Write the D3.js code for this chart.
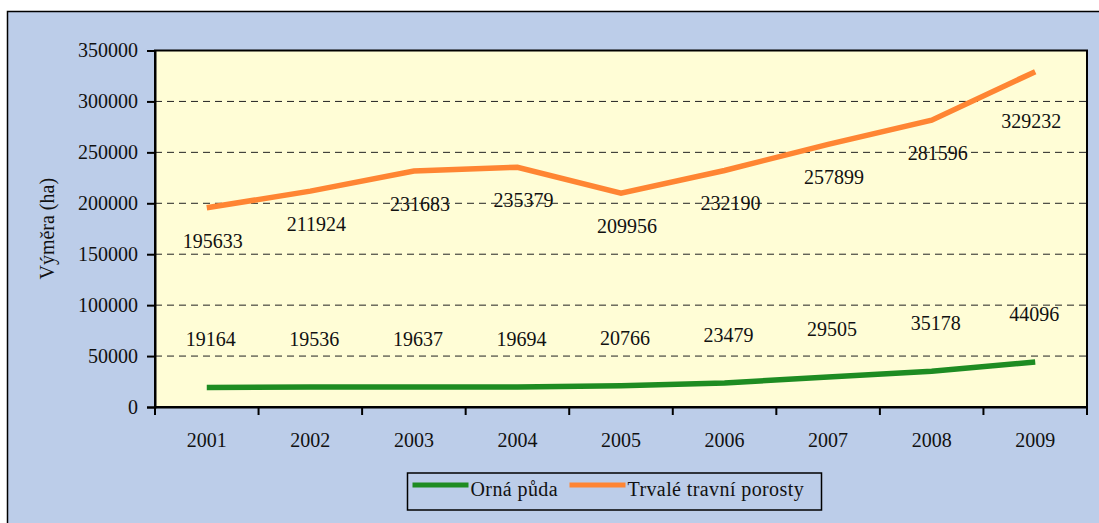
<!DOCTYPE html>
<html>
<head>
<meta charset="utf-8">
<script src="https://cdn.jsdelivr.net/npm/d3@7"></script>
<style>
  body { margin: 0; background: #fff; }
</style>
</head>
<body>
<div id="chart"></div>
<script>
// data
const years = ['2001', '2002', '2003', '2004', '2005', '2006', '2007', '2008', '2009'];
const ornaPuda = [19164, 19536, 19637, 19694, 20766, 23479, 29505, 35178, 44096];
const travniPorosty = [195633, 211924, 231683, 235379, 209956, 232190, 257899, 281596, 329232];
const yTicks = [0, 50000, 100000, 150000, 200000, 250000, 300000, 350000];
const seriesNames = ['Orná půda', 'Trvalé travní porosty'];

const W = 1099, H = 523;
const margin = { top: 50.5, right: 12, bottom: 116, left: 155 };
const green = '#1e8c22', orange = '#ff8533';
const FONT = '"Liberation Serif", "Times New Roman", Times, serif';

let svg = d3.select('#chart').append('svg')
  .attr('width', W)
  .attr('height', H);

/* pozadí + rámeček */
svg.append('rect')
  .attr('x', 7.5).attr('y', 11.5)
  .attr('width', W).attr('height', H)
  .attr('fill', '#bccde9')
  .attr('stroke', '#000')
  .attr('stroke-width', 1.5);

let x = d3.scaleBand().domain(years).range([margin.left, W - margin.right]);
let y = d3.scaleLinear().domain([0, 350000]).range([H - margin.bottom, margin.top]);

let plotW = W - margin.right - margin.left;
let plotH = H - margin.bottom - margin.top;

svg.append('rect')
  .attr('x', margin.left).attr('y', margin.top)
  .attr('width', plotW).attr('height', plotH)
  .attr('fill', '#fffdd6')
  .attr('stroke', '#000')
  .attr('stroke-width', 2);

/* vodorovné mřížky */
svg.append('g')
  .selectAll('line')
  .data(yTicks.filter(d => d > 0 && d < 350000))
  .join('line')
  .attr('x1', margin.left).attr('x2', W - margin.right)
  .attr('y1', d => y(d)).attr('y2', d => y(d))
  .attr('stroke', '#222')
  .attr('stroke-width', 1)
  .attr('stroke-dasharray', '7,5');

/* osa y */
let yAxis = d3.axisLeft(y).tickValues(yTicks).tickSize(8).tickPadding(9).tickFormat(d3.format('d'));
let gy = svg.append('g')
  .attr('transform', 'translate(' + margin.left + ',0)')
  .call(yAxis);
gy.select('.domain').attr('stroke-width', 2);
gy.selectAll('.tick line').attr('stroke-width', 2);

/* osa x - tick marks at band edges */
let gx = svg.append('g')
  .attr('transform', 'translate(0,' + (H - margin.bottom) + ')')
  .call(d3.axisBottom(x).tickSize(0).tickPadding(26));
gx.select('.domain').attr('stroke-width', 2);

let edges = years.map(d => x(d)).concat([x(years[years.length - 1]) + x.bandwidth()]);
svg.append('g')
  .selectAll('line')
  .data(edges)
  .join('line')
  .attr('x1', d => d).attr('x2', d => d)
  .attr('y1', H - margin.bottom).attr('y2', H - margin.bottom + 8)
  .attr('stroke', '#000')
  .attr('stroke-width', 2);

/* název osy y */
svg.append('text')
  .attr('transform', 'translate(54,' + (margin.top + plotH / 2) + ') rotate(-90)')
  .attr('text-anchor', 'middle')
  .text('Výměra (ha)');

/* linie */
let cx = d => x(d) + x.bandwidth() / 2;
let line = d3.line()
  .x((d, i) => cx(years[i]))
  .y(d => y(d));

svg.append('path')
  .datum(travniPorosty)
  .attr('d', line)
  .attr('fill', 'none')
  .attr('stroke', orange)
  .attr('stroke-width', 5.5);

svg.append('path')
  .datum(ornaPuda)
  .attr('d', line)
  .attr('fill', 'none')
  .attr('stroke', green)
  .attr('stroke-width', 5.5);

/* popisky hodnot - poslední je v originále posunutý */
let last = years.length - 1;
svg.append('g')
  .selectAll('text')
  .data(travniPorosty)
  .join('text')
  .attr('x', (d, i) => cx(years[i]) + (i === last ? -4 : 6))
  .attr('y', (d, i) => y(d) + (i === last ? 49 : 33))
  .attr('dy', '0.35em')
  .attr('text-anchor', 'middle')
  .text(d => d);

svg.append('g')
  .selectAll('text')
  .data(ornaPuda)
  .join('text')
  .attr('x', (d, i) => cx(years[i]) + (i === last ? -1 : 4))
  .attr('y', d => y(d) - 48)
  .attr('dy', '0.35em')
  .attr('text-anchor', 'middle')
  .text(d => d);

/* legenda */
let legend = svg.append('g').attr('transform', 'translate(407.5,473)');
legend.append('rect')
  .attr('width', 414).attr('height', 37)
  .attr('fill', 'none')
  .attr('stroke', '#000')
  .attr('stroke-width', 1.5);

let items = [
  { name: seriesNames[0], color: green, x: 5 },
  { name: seriesNames[1], color: orange, x: 162 }
];
let li = legend.selectAll('g.item')
  .data(items)
  .join('g')
  .attr('class', 'item')
  .attr('transform', d => 'translate(' + d.x + ',0)');
li.append('line')
  .attr('x1', 0).attr('x2', 56)
  .attr('y1', 12).attr('y2', 12)
  .attr('stroke', d => d.color)
  .attr('stroke-width', 5);
li.append('text')
  .attr('x', 58)
  .attr('y', 16)
  .attr('dy', '0.35em')
  .style('letter-spacing', '0.4px')
  .text(d => d.name);

// všechny texty stejně
svg.selectAll('text')
  .attr('font-family', null)
  .style('font-family', FONT)
  .style('font-size', '20px')
  .style('fill', '#111');
</script>
</body>
</html>
